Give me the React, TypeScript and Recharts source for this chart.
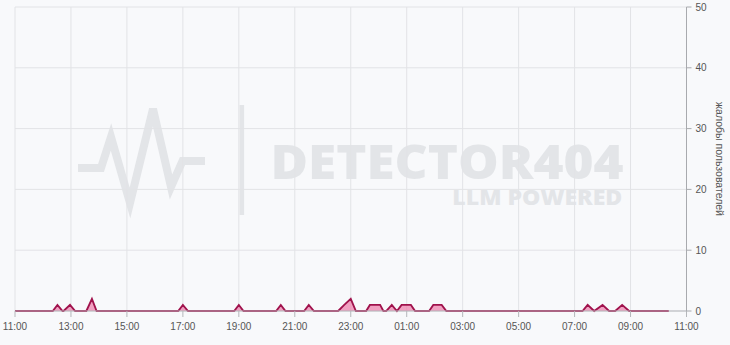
import { AreaChart, Area, XAxis, YAxis, CartesianGrid, Label } from "recharts";

// complaint counts (time of day -> count)
const TIMES = [
    "11:00", "12:21", "12:31", "12:42", "12:44", "12:58", "13:09", "13:33", "13:45", "13:55",
    "16:50", "17:00", "17:11", "18:50", "19:00", "19:10", "20:20", "20:30", "20:40", "21:20",
    "21:30", "21:41", "22:33", "22:46", "23:00", "23:11", "23:33", "23:41", "23:52", "00:03",
    "00:10", "00:16", "00:28", "00:39", "00:49", "00:59", "01:09", "01:18", "01:48", "01:57",
    "02:06", "02:15", "02:25", "07:17", "07:28", "07:42", "08:00", "08:14", "08:27", "08:42",
    "08:57", "10:22",
];
const VALUES = [
    0, 0, 1, 0, 0, 1, 0, 0, 2, 0,
    0, 1, 0, 0, 1, 0, 0, 1, 0, 0,
    1, 0, 0, 1, 2, 0, 0, 1, 1, 1,
    0, 0, 1, 0, 1, 1, 1, 0, 0, 1,
    1, 1, 0, 0, 1, 0, 1, 0, 0, 1,
    0, 0,
];

const X_TICK_LABELS = [
    "11:00", "13:00", "15:00", "17:00", "19:00", "21:00", "23:00",
    "01:00", "03:00", "05:00", "07:00", "09:00", "11:00",
];
const Y_TICKS = [0, 10, 20, 30, 40, 50];

const START_HOUR = 11;
const STEP = 120; // minutes between x ticks

function toMinutes(t: string) {
    const [h, m] = t.split(":").map(Number);
    let v = h * 60 + m - START_HOUR * 60;
    if (v < 0) v += 1440;
    return v;
}

const data = TIMES.map((t, i) => ({ t: toMinutes(t), complaints: VALUES[i] }));
const xTicks = X_TICK_LABELS.map((_, i) => i * STEP);

const FONT = "'Liberation Sans', Arial, sans-serif";
const WM = "#e3e5e8";

function Watermark() {
    return (
        <svg width={730} height={345} style={{ position: "absolute", left: 0, top: 0 }}>
            <polyline
                points="78,168 101,168 111,137 130,203 153,109 171,187 182.5,161 205,161"
                fill="none"
                stroke={WM}
                strokeWidth={8}
                strokeLinejoin="miter"
            />
            <rect x={239.5} y={105} width={4.6} height={110} fill={WM} />
            <text
                x={270.5}
                y={179.3}
                fontFamily="'Open Sans', sans-serif"
                fontWeight={800}
                fontSize={47}
                fill={WM}
                textLength={353}
                lengthAdjust="spacingAndGlyphs"
            >
                DETECTOR404
            </text>
            <text
                x={452.3}
                y={205}
                fontFamily="'Open Sans', sans-serif"
                fontWeight={800}
                fontSize={21}
                fill={WM}
                textLength={170}
                lengthAdjust="spacingAndGlyphs"
            >
                LLM POWERED
            </text>
        </svg>
    );
}

export default function App() {
    return (
        <div
            style={{
                position: "absolute",
                left: 0,
                top: 0,
                width: 730,
                height: 345,
                overflow: "hidden",
                background: "#f8f9fb",
                fontFamily: FONT,
            }}
        >
            <Watermark />
            <div style={{ position: "absolute", left: 0, top: 0 }}>
                <AreaChart
                    width={730}
                    height={345}
                    data={data}
                    margin={{ top: 7, right: 0, bottom: 0, left: 15 }}
                >
                    <CartesianGrid stroke="#e2e3e6" />
                    <XAxis
                        dataKey="t"
                        type="number"
                        domain={[0, 1440]}
                        ticks={xTicks}
                        tickFormatter={(v: number) => X_TICK_LABELS[Math.round(v / STEP)]}
                        interval={0}
                        height={34}
                        tickSize={6}
                        tickMargin={6}
                        stroke="#b5b7bb"
                        tick={{ fill: "#555", fontSize: 10, fontFamily: FONT }}
                    >
                        <Label
                            value="время, часовой пояс: местный"
                            position="insideBottom"
                            offset={-8}
                            style={{ fill: "#555", fontSize: 10, fontFamily: FONT }}
                        />
                    </XAxis>
                    <YAxis
                        orientation="right"
                        domain={[0, 50]}
                        ticks={Y_TICKS}
                        width={43.5}
                        tickSize={5}
                        tickMargin={4}
                        stroke="#a8aaae"
                        tick={{ fill: "#555", fontSize: 10, fontFamily: FONT, textAnchor: "start" }}
                    >
                        <Label
                            content={(props: any) => {
                                const vb = props.viewBox || {};
                                const cx = vb.x + 33;
                                const cy = vb.y + vb.height / 2;
                                return (
                                    <text
                                        x={cx}
                                        y={cy}
                                        transform={`rotate(90, ${cx}, ${cy})`}
                                        textAnchor="middle"
                                        dominantBaseline="central"
                                        fill="#555"
                                        fontSize={10.5}
                                        fontFamily={FONT}
                                    >
                                        жалобы пользователей
                                    </text>
                                );
                            }}
                        />
                    </YAxis>
                    <Area
                        type="linear"
                        dataKey="complaints"
                        stroke="#a0124c"
                        strokeWidth={1.8}
                        fill="#ee7aa8"
                        fillOpacity={0.7}
                        isAnimationActive={false}
                        dot={false}
                        activeDot={false}
                    />
                </AreaChart>
            </div>
        </div>
    );
}
